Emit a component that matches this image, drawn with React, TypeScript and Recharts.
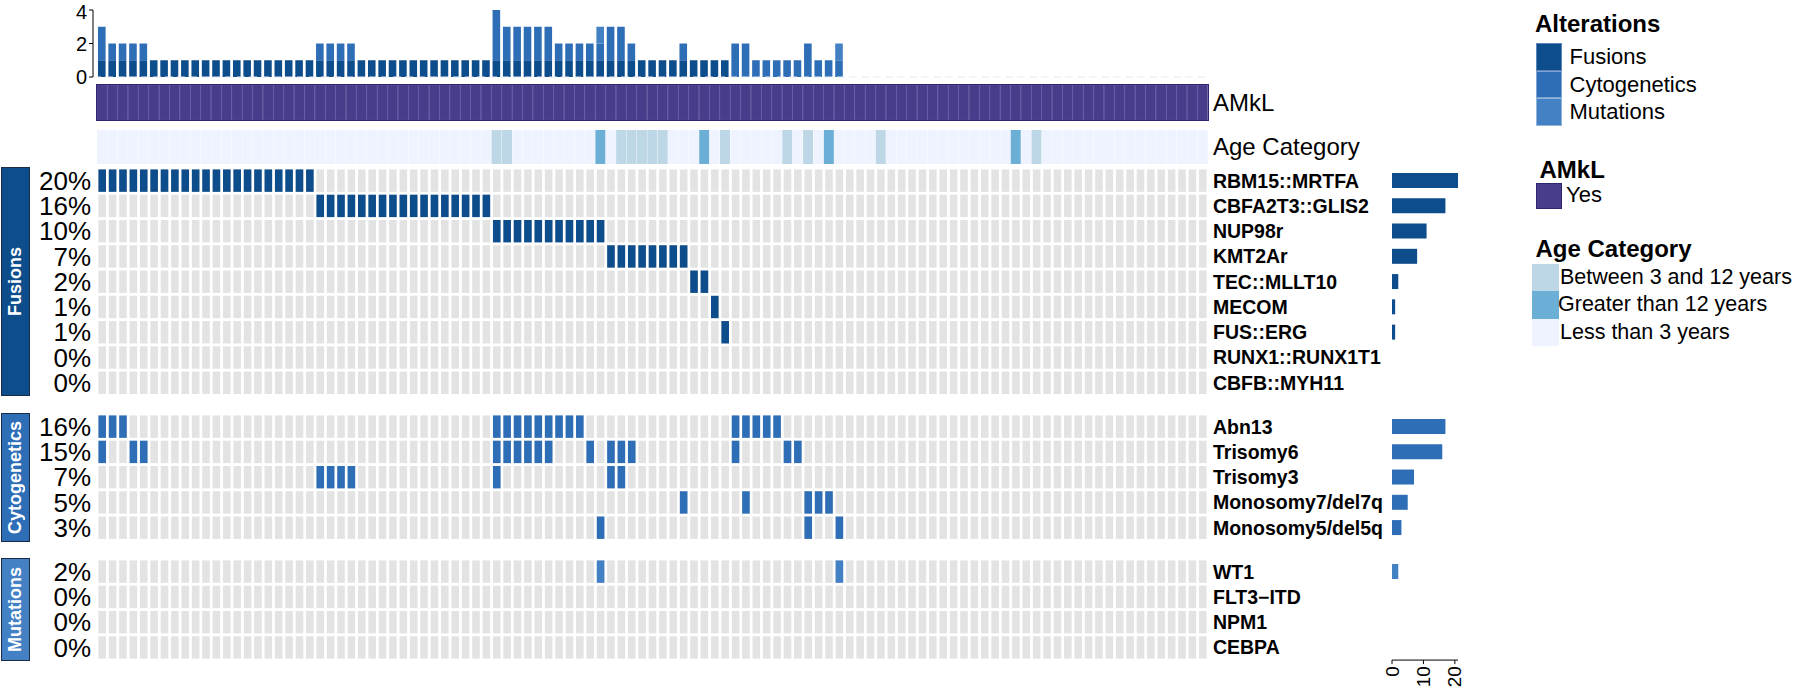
import React from "react";
import { BarChart, Bar, XAxis, YAxis, Cell, ScatterChart, Scatter, ReferenceLine } from "recharts";

const FONT = '"Liberation Sans", Arial, Helvetica, sans-serif';

// 107 samples, columns in plotted order
const N_SAMPLES = 107;
const SAMPLES = Array.from({ length: N_SAMPLES }, (_, i) => i);

// fusions: sample (column) indices carrying each event
const RBM15_MRTFA = [0, 1, 2, 3, 4, 5, 6, 7, 8, 9, 10, 11, 12, 13, 14, 15, 16, 17, 18, 19, 20];
const CBFA2T3_GLIS2 = [21, 22, 23, 24, 25, 26, 27, 28, 29, 30, 31, 32, 33, 34, 35, 36, 37];
const NUP98R = [38, 39, 40, 41, 42, 43, 44, 45, 46, 47, 48];
const KMT2AR = [49, 50, 51, 52, 53, 54, 55, 56];
const TEC_MLLT10 = [57, 58];
const MECOM = [59];
const FUS_ERG = [60];
const RUNX1_RUNX1T1: number[] = [];
const CBFB_MYH11: number[] = [];

// cytogenetics
const ABN13 = [0, 1, 2, 38, 39, 40, 41, 42, 43, 44, 45, 46, 61, 62, 63, 64, 65];
const TRISOMY6 = [0, 3, 4, 38, 39, 40, 41, 42, 43, 47, 49, 50, 51, 61, 66, 67];
const TRISOMY3 = [21, 22, 23, 24, 38, 49, 50];
const MONOSOMY7 = [56, 62, 68, 69, 70];
const MONOSOMY5 = [48, 68, 71];

// mutations
const WT1 = [48, 71];
const FLT3_ITD: number[] = [];
const NPM1: number[] = [];
const CEBPA: number[] = [];

// age category (everything else is "Less than 3 years")
const AGE_BETWEEN = [38, 39, 50, 51, 52, 53, 54, 60, 66, 68, 75, 90];
const AGE_GREATER = [48, 58, 70, 88];

const FUSION_GENES = ["RBM15::MRTFA", "CBFA2T3::GLIS2", "NUP98r", "KMT2Ar", "TEC::MLLT10", "MECOM", "FUS::ERG", "RUNX1::RUNX1T1", "CBFB::MYH11"];
const FUSION_PCT = ["20%", "16%", "10%", "7%", "2%", "1%", "1%", "0%", "0%"];
const CYTO_GENES = ["Abn13", "Trisomy6", "Trisomy3", "Monosomy7/del7q", "Monosomy5/del5q"];
const CYTO_PCT = ["16%", "15%", "7%", "5%", "3%"];
const MUT_GENES = ["WT1", "FLT3\u2212ITD", "NPM1", "CEBPA"];
const MUT_PCT = ["2%", "0%", "0%", "0%"];

const TOP_TICKS = [0, 2, 4];
const SIDE_TICKS = [0, 10, 20];

const FUS_COLOR = "#0E4D8C";
const CYTO_COLOR = "#2E6EB7";
const MUT_COLOR = "#4381C4";
const AMKL_COLOR = "#483D8B";
const GRAY = "#E3E3E3";
const AGE_COLORS = { less: "#EFF3FF", between: "#BDD7E7", greater: "#6BAED6" };

// layout
const ROW = 25.27;
const CW = 7.6;
const CH = 22.4;
const GROUP_TOP = [167.6, 414.2, 559.2];

const GROUPS = [
  { name: "Fusions", color: FUS_COLOR, genes: FUSION_GENES, pct: FUSION_PCT, hits: [RBM15_MRTFA, CBFA2T3_GLIS2, NUP98R, KMT2AR, TEC_MLLT10, MECOM, FUS_ERG, RUNX1_RUNX1T1, CBFB_MYH11] },
  { name: "Cytogenetics", color: CYTO_COLOR, genes: CYTO_GENES, pct: CYTO_PCT, hits: [ABN13, TRISOMY6, TRISOMY3, MONOSOMY7, MONOSOMY5] },
  { name: "Mutations", color: MUT_COLOR, genes: MUT_GENES, pct: MUT_PCT, hits: [WT1, FLT3_ITD, NPM1, CEBPA] },
];

const countIn = (lists: number[][], s: number) => lists.filter((l) => l.includes(s)).length;

const topData = SAMPLES.map((s) => ({
  id: s,
  fus: countIn(GROUPS[0].hits, s),
  cyto: countIn(GROUPS[1].hits, s),
  mut: countIn(GROUPS[2].hits, s),
}));

const annoData = SAMPLES.map((s) => ({
  id: s,
  v: 1,
  age: AGE_GREATER.includes(s) ? "greater" : AGE_BETWEEN.includes(s) ? "between" : "less",
}));

const cellShape = (color: string) => (p: any) => (
  <rect x={p.cx - CW / 2} y={p.cy - CH / 2} width={CW} height={CH} fill={color} />
);

function GroupGrid({ g, top }: { g: (typeof GROUPS)[number]; top: number }) {
  const n = g.genes.length;
  const bg: { x: number; y: number }[] = [];
  const hit: { x: number; y: number }[] = [];
  g.genes.forEach((_, r) => SAMPLES.forEach((s) => bg.push({ x: s, y: r })));
  g.hits.forEach((cols, r) => cols.forEach((s) => hit.push({ x: s, y: r })));
  const ticks = g.genes.map((_, r) => r);
  return (
    <div style={{ position: "absolute", left: 0, top: top - 4 }}>
      <ScatterChart width={1388} height={n * ROW + 8} margin={{ top: 4, right: 0, bottom: 4, left: 0 }}>
        <XAxis type="number" dataKey="x" domain={[-0.5, N_SAMPLES - 0.5]} hide />
        <YAxis
          yAxisId="L"
          type="number"
          dataKey="y"
          domain={[-0.5, n - 0.5]}
          reversed
          ticks={ticks}
          interval={0}
          width={97}
          axisLine={false}
          tickLine={false}
          tickSize={4}
          tickMargin={2}
          tickFormatter={(v: number) => g.pct[v]}
          tick={{ fill: "#000", fontSize: 26, fontFamily: FONT }}
        />
        <YAxis
          yAxisId="R"
          orientation="right"
          type="number"
          dataKey="y"
          domain={[-0.5, n - 0.5]}
          reversed
          ticks={ticks}
          interval={0}
          width={180}
          axisLine={false}
          tickLine={false}
          tickSize={3}
          tickMargin={2}
          tickFormatter={(v: number) => g.genes[v]}
          tick={{ fill: "#000", fontSize: 19.5, fontWeight: "bold", fontFamily: FONT }}
        />
        <Scatter yAxisId="L" data={bg} shape={cellShape(GRAY)} isAnimationActive={false} />
        <Scatter yAxisId="R" data={hit} shape={cellShape(g.color)} isAnimationActive={false} />
      </ScatterChart>
    </div>
  );
}

const RotTick = (p: any) => (
  <text
    x={p.x}
    y={p.y}
    transform={`rotate(-90 ${p.x} ${p.y})`}
    textAnchor="end"
    dominantBaseline="central"
    fontSize={19}
    fontFamily={FONT}
    fill="#000"
  >
    {p.payload.value}
  </text>
);

function GroupBars({ g, top, last }: { g: (typeof GROUPS)[number]; top: number; last: boolean }) {
  const n = g.genes.length;
  const data = g.genes.map((gene, r) => ({ gene, n: g.hits[r].length }));
  const axisH = last ? 34 : 0;
  return (
    <div style={{ position: "absolute", left: 1382, top }}>
      <BarChart layout="vertical" width={90} height={n * ROW + axisH} data={data} margin={{ top: 0, right: 14, bottom: 0, left: 10 }}>
        <XAxis
          type="number"
          domain={[0, 21]}
          ticks={SIDE_TICKS}
          hide={!last}
          height={34}
          axisLine={{ stroke: "#000" }}
          tickLine={{ stroke: "#000" }}
          tickSize={4}
          tickMargin={2}
          tick={<RotTick />}
        />
        <YAxis type="category" dataKey="gene" width={0} tick={false} tickLine={false} axisLine={{ stroke: "#E4E6F3" }} />
        <Bar dataKey="n" fill={g.color} barSize={15} isAnimationActive={false} />
      </BarChart>
    </div>
  );
}

const txt = (left: number, cy: number, text: string, size: number, bold = false, color = "#000") => (
  <div
    style={{
      position: "absolute",
      left,
      top: cy - 0.49 * size,
      fontSize: size,
      lineHeight: 1,
      fontWeight: bold ? "bold" : "normal",
      color,
      whiteSpace: "nowrap",
    }}
  >
    {text}
  </div>
);

const box = (left: number, top: number, w: number, h: number, fill: string, border = "none") => (
  <div style={{ position: "absolute", left, top, width: w, height: h, background: fill, border, boxSizing: "border-box" }} />
);

export default function App() {
  return (
    <div style={{ position: "absolute", left: 0, top: 0, width: 1800, height: 693, background: "#fff", fontFamily: FONT, overflow: "hidden" }}>
      {/* alterations per sample */}
      <div style={{ position: "absolute", left: 53, top: 0 }}>
        <BarChart width={1155} height={90} data={topData} margin={{ top: 10, right: 0, bottom: 13, left: 0 }}>
          <XAxis dataKey="id" hide padding={{ left: 4, right: 0 }} />
          <YAxis
            domain={[0, 4]}
            ticks={TOP_TICKS}
            width={40}
            axisLine={{ stroke: "#000" }}
            tickLine={{ stroke: "#000" }}
            tickSize={4}
            tickMargin={2}
            tick={{ fill: "#000", fontSize: 20, fontFamily: FONT }}
          />
          <ReferenceLine y={0} stroke="#E6EAF6" strokeDasharray="8 4" />
          <Bar dataKey="fus" stackId="a" fill={FUS_COLOR} barSize={CW} isAnimationActive={false} />
          <Bar dataKey="cyto" stackId="a" fill={CYTO_COLOR} barSize={CW} isAnimationActive={false} />
          <Bar dataKey="mut" stackId="a" fill={MUT_COLOR} barSize={CW} isAnimationActive={false} />
        </BarChart>
      </div>

      {/* AMkL annotation */}
      <div style={{ position: "absolute", left: 97, top: 85, outline: "1px solid #2F2670" }}>
        <BarChart width={1111} height={35} data={annoData} margin={{ top: 0, right: 0, bottom: 0, left: 0 }} barCategoryGap={0}>
          <XAxis dataKey="id" hide />
          <YAxis hide domain={[0, 1]} />
          <Bar dataKey="v" fill={AMKL_COLOR} stroke="#54499A" strokeWidth={0.6} isAnimationActive={false} />
        </BarChart>
      </div>
      {txt(1213, 102.5, "AMkL", 24)}

      {/* Age category annotation */}
      <div style={{ position: "absolute", left: 97, top: 129.5 }}>
        <BarChart width={1111} height={34.5} data={annoData} margin={{ top: 0, right: 0, bottom: 0, left: 0 }} barCategoryGap={0}>
          <XAxis dataKey="id" hide />
          <YAxis hide domain={[0, 1]} />
          <Bar dataKey="v" isAnimationActive={false}>
            {annoData.map((d) => (
              <Cell key={d.id} fill={AGE_COLORS[d.age as keyof typeof AGE_COLORS]} />
            ))}
          </Bar>
        </BarChart>
      </div>
      {txt(1213, 147, "Age Category", 24)}

      {GROUPS.map((g, i) => (
        <GroupGrid key={g.name} g={g} top={GROUP_TOP[i]} />
      ))}
      {GROUPS.map((g, i) => (
        <GroupBars key={g.name} g={g} top={GROUP_TOP[i]} last={i === GROUPS.length - 1} />
      ))}

      {/* group boxes */}
      {GROUPS.map((g, i) => (
        <div
          key={g.name}
          style={{
            position: "absolute",
            left: 1,
            top: GROUP_TOP[i] - 1,
            width: 29,
            height: g.genes.length * ROW + 2,
            background: g.color,
            border: "1.5px solid #1B2A45",
            boxSizing: "border-box",
            display: "flex",
            alignItems: "center",
            justifyContent: "center",
          }}
        >
          <span style={{ writingMode: "vertical-rl", transform: "rotate(180deg)", color: "#fff", fontWeight: "bold", fontSize: 18 }}>{g.name}</span>
        </div>
      ))}

      {/* legends */}
      {txt(1535, 24, "Alterations", 24, true)}
      {box(1535.5, 43, 26, 27.5, FUS_COLOR, "1px solid #5D86B8")}
      {box(1535.5, 70.5, 26, 27.5, CYTO_COLOR, "1px solid #7FA3D2")}
      {box(1535.5, 98, 26, 27.5, MUT_COLOR, "1px solid #93B5DC")}
      {txt(1569.5, 57, "Fusions", 22)}
      {txt(1569.5, 84.5, "Cytogenetics", 22)}
      {txt(1569.5, 112, "Mutations", 22)}

      {txt(1539.5, 170, "AMkL", 24, true)}
      {box(1536, 183, 26, 26, AMKL_COLOR, "1px solid #2F2670")}
      {txt(1566, 195, "Yes", 22)}

      {txt(1535.5, 249, "Age Category", 24, true)}
      {box(1531.5, 264, 27, 27, AGE_COLORS.between)}
      {box(1531.5, 291, 27, 27.5, AGE_COLORS.greater)}
      {box(1531.5, 318.5, 27, 27.5, AGE_COLORS.less)}
      {txt(1560, 278, "Between 3 and 12 years", 21.5)}
      {txt(1558, 305, "Greater than 12 years", 21.5)}
      {txt(1560, 332.5, "Less than 3 years", 21.5)}
    </div>
  );
}
